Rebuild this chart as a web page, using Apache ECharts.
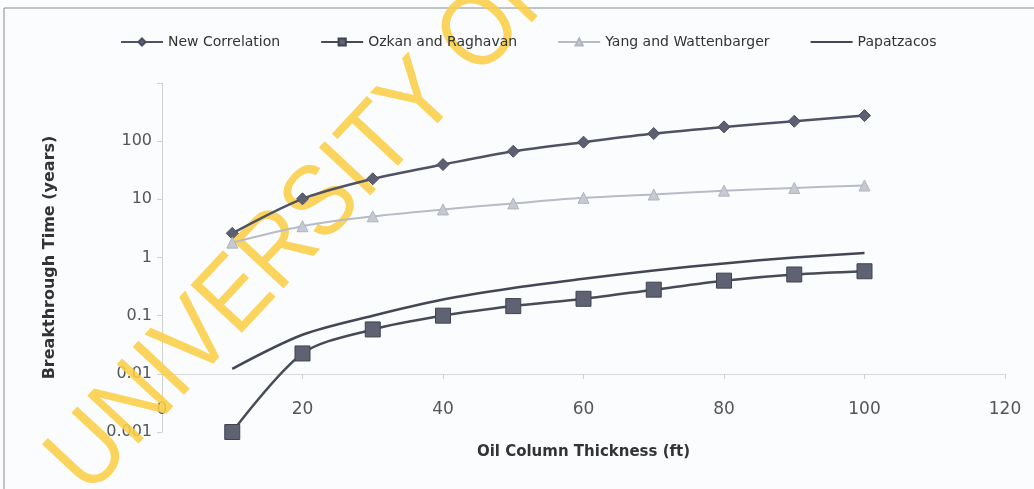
<!DOCTYPE html>
<html>
<head>
<meta charset="utf-8">
<script src="https://cdn.jsdelivr.net/npm/echarts@6/dist/echarts.min.js"></script>
<style>
  html, body { margin: 0; padding: 0; background: #fbfcfe; }
  #chart { width: 1034px; height: 489px; }
</style>
</head>
<body>
<div id="chart"></div>
<script>
// oil column thickness (ft)
const thickness = [10, 20, 30, 40, 50, 60, 70, 80, 90, 100];

// breakthrough time (years)
const newCorrelation = [2.6, 10.2, 22.5, 39.6, 67, 96, 135, 176, 220, 275];
const ozkanRaghavan = [0.001, 0.0224, 0.058, 0.1, 0.146, 0.195, 0.28, 0.4, 0.51, 0.58];
const yangWattenbarger = [1.8, 3.45, 5.1, 6.7, 8.5, 10.6, 12.1, 14.1, 15.7, 17.3];
const papatzacos = [0.0122, 0.047, 0.1, 0.19, 0.3, 0.43, 0.6, 0.79, 1.0, 1.2];

const pairs = (ys) => thickness.map((x, i) => [x, ys[i]]);

const chart = echarts.init(document.getElementById("chart"));

const option = {
    backgroundColor: "#fbfcfe",
    animation: false,
    textStyle: { fontFamily: "DejaVu Sans" },
    legend: {
        left: 115,
        top: 30,
        itemWidth: 42,
        itemHeight: 9,
        itemGap: 40,
        textStyle: { fontSize: 14, color: "#333" },
        data: [
            "New Correlation",
            "Ozkan and Raghavan",
            "Yang and Wattenbarger",
            { name: "Papatzacos", itemStyle: { opacity: 0 } },
        ],
    },
    grid: {
        left: 162,
        right: 29,
        top: 83,
        bottom: 57,
        containLabel: false,
        outerBoundsMode: "none",
    },
    xAxis: {
        type: "value",
        min: 0,
        max: 120,
        interval: 20,
        offset: -58,
        name: "Oil Column Thickness (ft)",
        nameLocation: "middle",
        nameGap: 71,
        nameTextStyle: { fontSize: 15, fontWeight: "bold", color: "#333" },
        axisLine: { lineStyle: { color: "#d8d8d8" } },
        axisTick: { length: 5, lineStyle: { color: "#cfcfcf" } },
        axisLabel: { fontSize: 17, color: "#555", margin: 27 },
        splitLine: { show: false },
    },
    yAxis: {
        type: "log",
        logBase: 10,
        min: 0.001,
        max: 1000,
        name: "Breakthrough Time (years)",
        nameLocation: "middle",
        nameGap: 104,
        nameTextStyle: { fontSize: 16, fontWeight: "bold", color: "#333" },
        axisLine: { show: true, lineStyle: { color: "#d0d0d0" } },
        axisTick: { show: true, length: 5, lineStyle: { color: "#cfcfcf" } },
        axisLabel: {
            fontSize: 16,
            color: "#555",
            margin: 10,
            formatter: (v) => (v >= 1000 ? "" : String(+v.toPrecision(3))),
        },
        splitLine: { show: false },
        minorTick: { show: false },
    },
    series: [
        {
            name: "New Correlation",
            type: "line",
            data: pairs(newCorrelation),
            smooth: 0.3,
            clip: false,
            symbol: "diamond",
            symbolSize: 12,
            itemStyle: { color: "#5d6072", borderColor: "#4a4d5c", borderWidth: 1 },
            lineStyle: { color: "#4f5263", width: 2.5 },
        },
        {
            name: "Ozkan and Raghavan",
            type: "line",
            data: pairs(ozkanRaghavan),
            smooth: 0.3,
            clip: false,
            symbol: "rect",
            symbolSize: 15,
            itemStyle: { color: "#5f6273", borderColor: "#40434f", borderWidth: 1 },
            lineStyle: { color: "#474a57", width: 2.5 },
        },
        {
            name: "Yang and Wattenbarger",
            type: "line",
            data: pairs(yangWattenbarger),
            smooth: 0.3,
            clip: false,
            symbol: "triangle",
            symbolSize: 11,
            itemStyle: { color: "#c6c9d1", borderColor: "#b0b4bd", borderWidth: 1 },
            lineStyle: { color: "#b7bbc4", width: 2 },
        },
        {
            name: "Papatzacos",
            type: "line",
            data: pairs(papatzacos),
            smooth: 0.3,
            clip: false,
            symbol: "none",
            itemStyle: { color: "#434654" },
            lineStyle: { color: "#434654", width: 2.5 },
        },
    ],
    graphic: [
        {
            type: "rect",
            z: -10,
            shape: { x: 4, y: 8, width: 1040, height: 490 },
            style: { fill: null, stroke: "#8a8a8a", lineWidth: 1 },
        },
        {
            // scanned-page watermark
            type: "text",
            z: 3,
            x: 68,
            y: 478,
            rotation: 0.82,
            scaleY: 1.12,
            style: {
                text: "UNIVERSITY OF",
                font: "91px 'Liberation Sans'",
                fill: "rgba(251, 206, 72, 0.88)",
                align: "left",
                verticalAlign: "middle",
            },
        },
    ],
};

chart.setOption(option);
</script>
</body>
</html>
